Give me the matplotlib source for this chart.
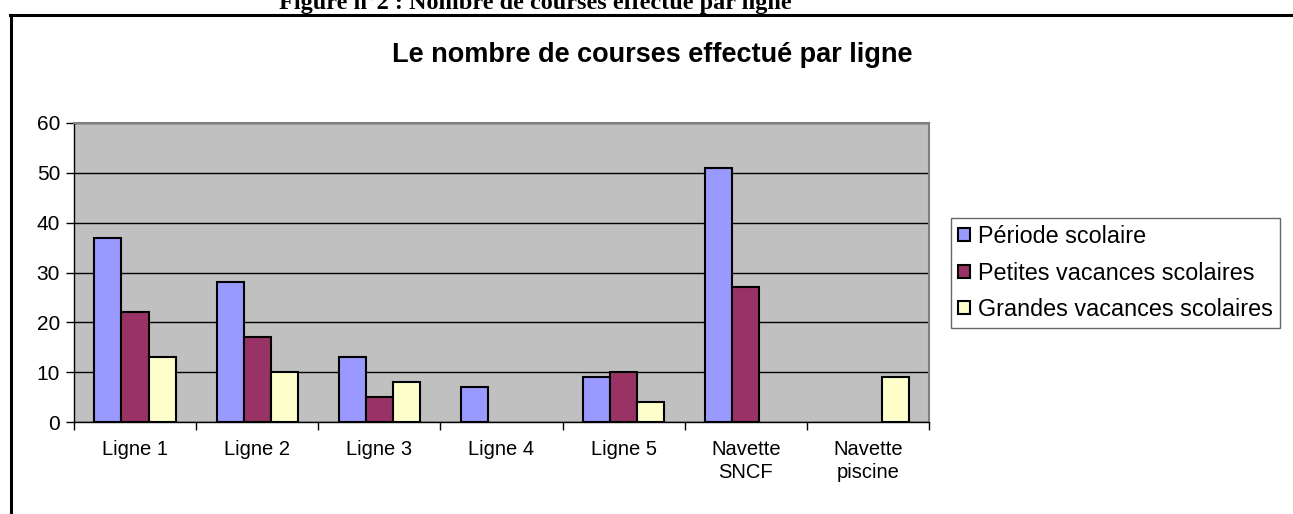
import matplotlib
matplotlib.use('Agg')
import matplotlib.pyplot as plt
import numpy as np
from matplotlib.lines import Line2D

plt.rcParams['font.family'] = ['Liberation Sans', 'DejaVu Sans']

categories = ['Ligne 1', 'Ligne 2', 'Ligne 3', 'Ligne 4', 'Ligne 5', 'Navette\nSNCF', 'Navette\npiscine']
periode = [37, 28, 13, 7, 9, 51, 0]
petites = [22, 17, 5, 0, 10, 27, 0]
grandes = [13, 10, 8, 0, 4, 0, 9]
series_names = ['Période scolaire', 'Petites vacances scolaires', 'Grandes vacances scolaires']
colors = ['#9999FF', '#993366', '#FFFFCC']

fig = plt.figure(figsize=(12.93, 5.14), dpi=100)
ax = fig.add_axes([74/1293, 1 - 422/514, (929-74)/1293, (422-123)/514])
ax.set_facecolor('#C0C0C0')

x = np.arange(len(categories))
w = 1/4.5
for i, (vals, name, c) in enumerate(zip([periode, petites, grandes], series_names, colors)):
    lw = [1.5 if v > 0 else 0 for v in vals]
    ax.bar(x + (i - 1)*w, vals, w, color=c, edgecolor='black', linewidth=lw, label=name, zorder=3)

ax.set_xlim(-0.5, len(categories) - 0.5)
ax.set_ylim(0, 60)
ax.set_yticks(range(0, 61, 10))
ax.yaxis.grid(True, color='black', linewidth=1, zorder=1)
ax.set_axisbelow(True)

ax.set_xticks(x)
ax.set_xticklabels(categories, fontsize=14.5, linespacing=1.25)
ax.set_xticks(np.arange(-0.5, len(categories), 1), minor=True)
ax.tick_params(axis='x', which='major', length=0, pad=13)
ax.tick_params(axis='x', which='minor', length=6, width=1, direction='out')
ax.tick_params(axis='y', length=6, width=1, direction='out', labelsize=15, pad=4)

for s in ['top', 'right']:
    ax.spines[s].set_color('#808080')
    ax.spines[s].set_linewidth(1.5)
for s in ['left', 'bottom']:
    ax.spines[s].set_color('black')
    ax.spines[s].set_linewidth(1)

leg = ax.legend(loc='upper left', bbox_to_anchor=(951/1293, 1 - 218/514), bbox_transform=fig.transFigure,
                fontsize=16.8, frameon=True, fancybox=False, borderpad=0.3, handlelength=0.5,
                handleheight=0.5, handletextpad=0.35, labelspacing=0.58, borderaxespad=0)
leg.get_frame().set_edgecolor('#404040')
leg.get_frame().set_linewidth(1)

fig.text(652/1293, 1 - 55/514, 'Le nombre de courses effectué par ligne', ha='center', va='center',
         fontsize=19.5, fontweight='bold')
fig.text(535/1293, 1 - 9/514, 'Figure n°2 : Nombre de courses effectué par ligne', ha='center',
         va='baseline', fontsize=17.5, fontweight='bold', family=['Liberation Serif', 'DejaVu Serif'])

fig.add_artist(Line2D([11/1293, 11/1293], [0, 1 - 15/514], color='black', linewidth=2.2, transform=fig.transFigure))
fig.add_artist(Line2D([10/1293, 1], [1 - 15/514, 1 - 15/514], color='black', linewidth=2.2, transform=fig.transFigure))

fig.savefig('out.png', dpi=100)
